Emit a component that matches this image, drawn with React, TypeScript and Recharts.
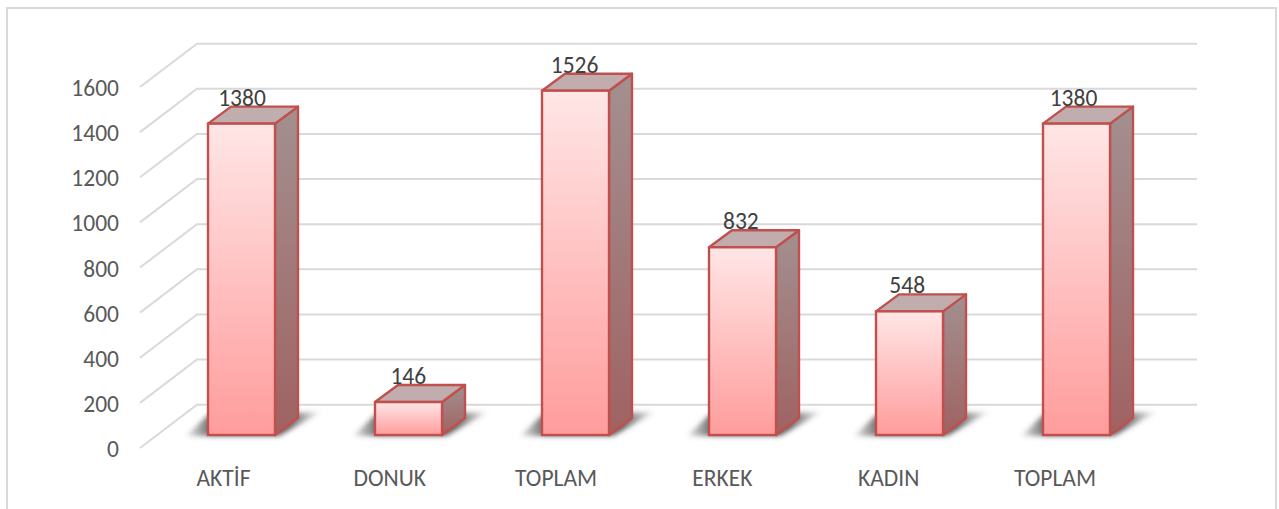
import React from 'react';
import { BarChart, Bar, XAxis, YAxis, CartesianGrid, LabelList } from 'recharts';

const categories = ['AKTİF', 'DONUK', 'TOPLAM', 'ERKEK', 'KADIN', 'TOPLAM'];
const values = [1380, 146, 1526, 832, 548, 1380];
const yTicks = [0, 200, 400, 600, 800, 1000, 1200, 1400, 1600];
const titleGlyphs = [{ t: 'g', x: 516 }, { t: 'g', x: 672 }];

const data = categories.map((name, i) => ({ key: i, name, value: values[i] }));

const FONT = 'Carlito, Lato, "Open Sans", sans-serif';
const DX = 23, DY = 17;

const GridLine = (p: any) => {
  const y = p.y1;
  return (
    <polyline
      points={`140,${y + 13} 197,${y - 30.3} 1197,${y - 30.3}`}
      fill="none" stroke="#d9d9d9" strokeWidth={2}
    />
  );
};

const YTick = (p: any) => (
  <text x={119} y={p.y + 22} textAnchor="end" fontFamily={FONT} fontSize={23.5} fill="#595959">{p.payload.value}</text>
);
const XTick = (p: any) => (
  <text x={p.x - 18 - p.index * 0.7} y={486} textAnchor="middle" fontFamily={FONT} fontSize={23.5} fill="#595959">
    {categories[p.index]}
  </text>
);

const Bar3D = (p: any) => {
  const { x, y, width: w, height: h } = p;
  const b = y + h, r = x + w;
  return (
    <g>
      <polygon
        points={`${x - 22},${b + 1} ${x},${b - DY - 3} ${r + 46},${b - DY - 6} ${r + 4},${b + 1}`}
        fill="url(#shadowFill)" filter="url(#shadowBlur)"
      />
      <polygon points={`${r},${y} ${r + DX},${y - DY} ${r + DX},${b - DY} ${r},${b}`}
        fill="url(#sideFill)" stroke="#c0504d" strokeWidth={2.4} strokeLinejoin="round" />
      <polygon points={`${x},${y} ${x + DX},${y - DY} ${r + DX},${y - DY} ${r},${y}`}
        fill="#c1adad" stroke="#c0504d" strokeWidth={2.4} strokeLinejoin="round" />
      <rect x={x} y={y} width={w} height={h} fill="url(#frontFill)" stroke="#c0504d" strokeWidth={2.4} />
    </g>
  );
};

const ValueLabel = (p: any) => (
  <text x={p.x + p.width / 2 + 0.5 - p.index * 0.7} y={p.y - 18} textAnchor="middle" fontFamily={FONT} fontSize={23.5} fill="#404040">{p.value}</text>
);

export default function App() {
  return (
    <div style={{ position: 'absolute', left: 0, top: 0, width: 1279, height: 509, overflow: 'hidden', background: '#fff' }}>
      <div style={{ position: 'absolute', left: 6, top: 7, width: 1267, height: 600, border: '2px solid #d9d9d9' }} />
      <svg width={1279} height={10} style={{ position: 'absolute', left: 0, top: 0 }}>
        <text y={-4} textAnchor="middle" fontFamily={FONT} fontSize={26} fontWeight={700} fill="#000">
          {titleGlyphs.map((g, i) => <tspan key={i} x={g.x} y={-4}>{g.t}</tspan>)}
        </text>
      </svg>
      <div style={{ position: 'absolute', left: 0, top: 0 }}>
        <BarChart width={1279} height={509} data={data}
          margin={{ top: 74, right: 119, bottom: 0, left: 98 }} barSize={67}>
          <defs>
            <linearGradient id="frontFill" x1="0" y1="0" x2="0" y2="1">
              <stop offset="0" stopColor="#ffe6e6" />
              <stop offset="1" stopColor="#ff9c9c" />
            </linearGradient>
            <linearGradient id="sideFill" x1="0" y1="0" x2="0" y2="1">
              <stop offset="0" stopColor="#a39090" />
              <stop offset="1" stopColor="#a06262" />
            </linearGradient>
            <linearGradient id="shadowFill" x1="0" y1="0" x2="1" y2="0">
              <stop offset="0" stopColor="#444" stopOpacity="0.1" />
              <stop offset="0.2" stopColor="#444" stopOpacity="0.85" />
              <stop offset="0.75" stopColor="#444" stopOpacity="0.85" />
              <stop offset="1" stopColor="#444" stopOpacity="0.05" />
            </linearGradient>
            <filter id="shadowBlur" x="-20%" y="-40%" width="140%" height="180%">
              <feGaussianBlur stdDeviation="2.5" />
            </filter>
          </defs>
          <CartesianGrid vertical={false} horizontal={(p: any) => <GridLine key={p.key} {...p} />} />
          <XAxis dataKey="key" axisLine={false} tickLine={false} tick={<XTick />} interval={0} height={74} />
          <YAxis domain={[0, 1600]} ticks={yTicks} axisLine={false} tickLine={false} tick={<YTick />} width={60} />
          <Bar dataKey="value" isAnimationActive={false} shape={<Bar3D />}>
            <LabelList dataKey="value" content={<ValueLabel />} />
          </Bar>
        </BarChart>
      </div>
    </div>
  );
}
